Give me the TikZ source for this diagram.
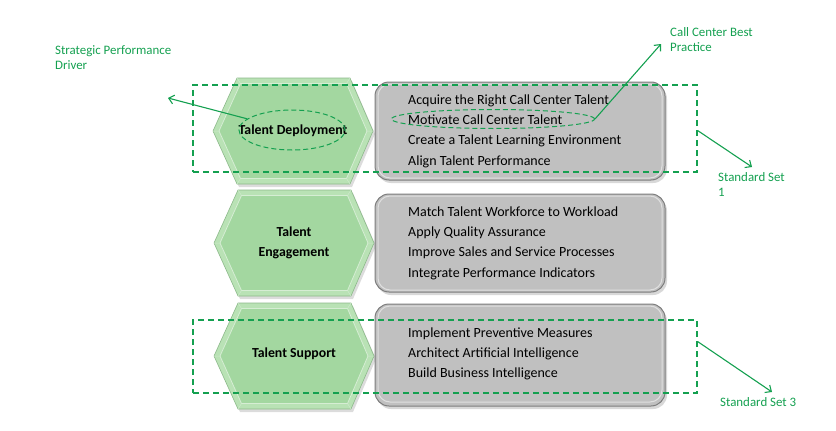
\documentclass[tikz,border=0pt]{standalone}
\usepackage{fontspec}
\setmainfont{Carlito}
\usetikzlibrary{shapes.geometric,arrows.meta}
\definecolor{lbl}{RGB}{20,160,80}
\definecolor{hexface}{RGB}{163,215,160}
\definecolor{hexrim}{RGB}{185,226,181}
\definecolor{hexline}{RGB}{140,185,138}
\definecolor{boxface}{RGB}{192,192,192}
\definecolor{boxline}{RGB}{125,125,125}
\tikzset{
  hexa/.pic={
    \fill[black!30,opacity=0.45] (-78,3) -- (-54,-50) -- (59,-50) -- (82,3) -- (59,56) -- (-54,56) -- cycle;
    \filldraw[fill=hexrim,draw=hexline,line width=0.6pt] (-80,0) -- (-56,-53) -- (57,-53) -- (80,0) -- (57,53) -- (-56,53) -- cycle;
    \filldraw[fill=hexface,draw=white!55!hexface,line width=0.8pt] (-74,0) -- (-52.5,-47.5) -- (53.5,-47.5) -- (74,0) -- (53.5,47.5) -- (-52.5,47.5) -- cycle;
    \draw[white!45!hexface,line width=0.5pt] (-80,0) -- (-74,0) (-56,-53) -- (-52.5,-47.5) (57,-53) -- (53.5,-47.5) (80,0) -- (74,0) (57,53) -- (53.5,47.5) (-56,53) -- (-52.5,47.5);
  },
  grbox/.style={rectangle,rounded corners=14pt,fill=boxface,draw=boxline,line width=1pt,
    minimum width=290pt,minimum height=98pt,inner sep=0pt},
  boxshadow/.style={rectangle,rounded corners=14pt,fill=black!30,opacity=0.5,
    minimum width=290pt,minimum height=98pt,inner sep=0pt},
  hextext/.style={font=\bfseries\fontsize{13.8}{20}\selectfont,align=center,text=black},
  itemtext/.style={font=\fontsize{14}{20.3}\selectfont,align=left,anchor=west,inner sep=0pt,text=black},
  dashbox/.style={rectangle,draw=lbl,dash pattern=on 6pt off 4pt,line width=1.1pt,inner sep=0pt},
  dashell/.style={ellipse,draw=lbl,dash pattern=on 5pt off 3pt,line width=1pt,inner sep=0pt},
  lbltext/.style={font=\fontsize{12.9}{15.5}\selectfont,text=lbl,align=left,anchor=north west,inner sep=0pt},
  callout/.style={draw=lbl,line width=1.1pt,-{Straight Barb[length=5pt,width=9pt,line width=1.1pt]}},
}
\begin{document}
\begin{tikzpicture}[x=1pt,y=-1pt]
\useasboundingbox (0,0) rectangle (836,431);
% hexagons
\pic at (293,131) {hexa};
\pic at (294,243) {hexa};
\pic at (294,356) {hexa};
% grey boxes
\node[boxshadow] at (522,134) {};
\node[boxshadow] at (522,246) {};
\node[boxshadow,minimum height=102pt] at (522,358) {};
\node[grbox] (b1) at (520,131) {};
\node[grbox] (b2) at (520,243) {};
\node[grbox,minimum height=102pt] (b3) at (520,355) {};
\draw[white,opacity=0.5,line width=1pt,rounded corners=12pt] (378,84) rectangle (662,178);
\draw[white,opacity=0.5,line width=1pt,rounded corners=12pt] (378,196) rectangle (662,290);
\draw[white,opacity=0.5,line width=1pt,rounded corners=12pt] (378,306) rectangle (662,402);
% hexagon texts
\node[hextext] (h1) at (293,131) {Talent Deployment};
\node[hextext] (h2) at (294,243) {Talent\\Engagement};
\node[hextext] (h3) at (294,354) {Talent Support};
% item texts
\node[itemtext] (i1) at (408,131) {Acquire the Right Call Center Talent\\Motivate Call Center Talent\\Create a Talent Learning Environment\\Align Talent Performance};
\node[itemtext] (i2) at (408,243) {Match Talent Workforce to Workload\\Apply Quality Assurance\\Improve Sales and Service Processes\\Integrate Performance Indicators};
\node[itemtext] (i3) at (408,354) {Implement Preventive Measures\\Architect Artificial Intelligence\\Build Business Intelligence};
% dashed marks
\node[dashbox,minimum width=504pt,minimum height=87pt] (r1) at (445,128.5) {};
\node[dashbox,minimum width=504pt,minimum height=73pt] (r3) at (445,356.5) {};
\node[dashell,minimum width=106pt,minimum height=40pt] (e1) at (292,130) {};
\node[dashell,minimum width=203pt,minimum height=19pt] (e2) at (493,119) {};
% labels
\node[lbltext] (l1) at (55,45) {Strategic Performance\\Driver};
\node[lbltext] (l2) at (670,27) {Call Center Best\\Practice};
\node[lbltext] (l3) at (718,172) {Standard Set\\1};
\node[lbltext] (l4) at (720,397) {Standard Set 3};
% arrow tips
\coordinate (t1) at (168,98);
\coordinate (t2) at (661,44);
\coordinate (t3) at (752,167);
\coordinate (t4) at (772,392);
\draw[callout] (e1.166) -- (t1);
\draw[callout] (e2.east) -- (t2);
\draw[callout] ([yshift=-2pt]r1.east) -- (t3);
\draw[callout] ([yshift=15pt]r3.east) -- (t4);
\end{tikzpicture}
\end{document}
